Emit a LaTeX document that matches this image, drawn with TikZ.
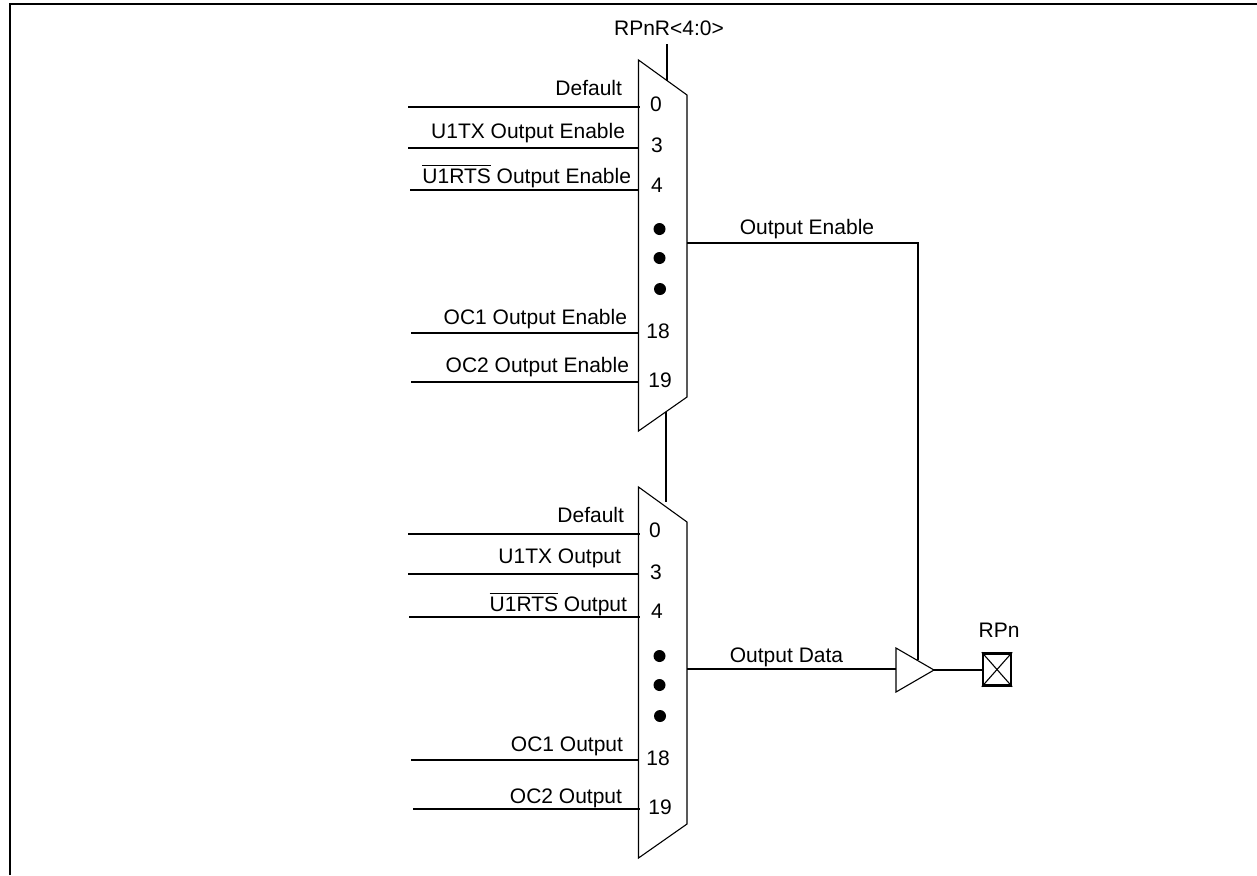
\documentclass[tikz,border=0pt]{standalone}
\usepackage{amsmath}
\usepackage{fontspec}
\setmainfont{Liberation Sans}
\usepackage{xcolor}
\usepackage{tikz}

\tikzset{
  wire/.style={line width=1pt},
  outline/.style={line width=0.55pt},
  lbl/.style={inner sep=0pt,outer sep=0pt,font=\fontsize{10.5}{12}\selectfont},
  muxdot/.style={circle,fill=black,inner sep=0pt,minimum size=6pt},
  padbox/.style={draw,line width=1.2pt,inner sep=0pt,minimum width=14pt,minimum height=16pt}
}

\begin{document}
\begin{tikzpicture}[x=0.5pt,y=-0.5pt]
\useasboundingbox (0,0) rectangle (1257,875);

\coordinate (frameTL) at (10,4);
\coordinate (frameTR) at (1257,4);
\coordinate (frameBL) at (10,875);
\draw [line width=1pt] (frameBL) -- (frameTL) -- (frameTR);

\coordinate (oeA) at (638.5,60);
\coordinate (oeB) at (687,95);
\coordinate (oeC) at (687,397);
\coordinate (oeD) at (638.5,431);
\draw [outline] (oeA) -- (oeB) -- (oeC) -- (oeD) -- cycle;

\coordinate (odA) at (638.5,487);
\coordinate (odB) at (687,522);
\coordinate (odC) at (687,824);
\coordinate (odD) at (638.5,858);
\draw [outline] (odA) -- (odB) -- (odC) -- (odD) -- cycle;

\node [lbl,anchor=base] (selLabel) at (669,35) {RPnR<4:0>};
\coordinate (selTop) at (666.5,44);
\coordinate (selOE) at (666.5,81);
\draw [wire] (selTop) -- (selOE);
\coordinate (linkTop) at (666,412);
\coordinate (linkBot) at (666,502);
\draw [wire] (linkTop) -- (linkBot);

\node [lbl,anchor=base east] (oeLa) at (622,95) {Default};
\node [lbl,anchor=base east] (oeLb) at (625,138) {U1TX Output Enable};
\node [lbl,anchor=base east] (oeLc) at (631,183) {$\overline{\text{U1RTS}}$ Output Enable};
\node [lbl,anchor=base east] (oeLd) at (627,324) {OC1 Output Enable};
\node [lbl,anchor=base east] (oeLe) at (629,372) {OC2 Output Enable};

\coordinate (oeInA) at (408,107);
\coordinate (oeEndA) at (640,107);
\draw [wire] (oeInA) -- (oeEndA);
\coordinate (oeInB) at (408,148);
\coordinate (oeEndB) at (638,148);
\draw [wire] (oeInB) -- (oeEndB);
\coordinate (oeInC) at (410,190);
\coordinate (oeEndC) at (639,190);
\draw [wire] (oeInC) -- (oeEndC);
\coordinate (oeInD) at (411,333);
\coordinate (oeEndD) at (638,333);
\draw [wire] (oeInD) -- (oeEndD);
\coordinate (oeInE) at (411,382);
\coordinate (oeEndE) at (638,382);
\draw [wire] (oeInE) -- (oeEndE);

\node [lbl,anchor=base] (oeNa) at (656,111) {0};
\node [lbl,anchor=base] (oeNb) at (657,152) {3};
\node [lbl,anchor=base] (oeNc) at (657,192) {4};
\node [muxdot] (oeDotA) at (659.5,229) {};
\node [muxdot] (oeDotB) at (659.5,258) {};
\node [muxdot] (oeDotC) at (660,289) {};
\node [lbl,anchor=base] (oeNd) at (658,338) {18};
\node [lbl,anchor=base] (oeNe) at (660,387) {19};

\node [lbl,anchor=base east] (odLa) at (624,522) {Default};
\node [lbl,anchor=base east] (odLb) at (621,563) {U1TX Output};
\node [lbl,anchor=base east] (odLc) at (627,611) {$\overline{\text{U1RTS}}$ Output};
\node [lbl,anchor=base east] (odLd) at (623,751) {OC1 Output};
\node [lbl,anchor=base east] (odLe) at (622,803) {OC2 Output};

\coordinate (odInA) at (408,534);
\coordinate (odEndA) at (640,534);
\draw [wire] (odInA) -- (odEndA);
\coordinate (odInB) at (408,574);
\coordinate (odEndB) at (638,574);
\draw [wire] (odInB) -- (odEndB);
\coordinate (odInC) at (409,617);
\coordinate (odEndC) at (640,617);
\draw [wire] (odInC) -- (odEndC);
\coordinate (odInD) at (411,760);
\coordinate (odEndD) at (638,760);
\draw [wire] (odInD) -- (odEndD);
\coordinate (odInE) at (413,809);
\coordinate (odEndE) at (640,809);
\draw [wire] (odInE) -- (odEndE);

\node [lbl,anchor=base] (odNa) at (655,537) {0};
\node [lbl,anchor=base] (odNb) at (656,579) {3};
\node [lbl,anchor=base] (odNc) at (657,618) {4};
\node [muxdot] (odDotA) at (659.5,656) {};
\node [muxdot] (odDotB) at (659.5,685) {};
\node [muxdot] (odDotC) at (660,716) {};
\node [lbl,anchor=base] (odNd) at (658,765) {18};
\node [lbl,anchor=base] (odNe) at (660,814) {19};

\coordinate (bufA) at (896,648);
\coordinate (bufTip) at (934,670);
\coordinate (bufB) at (896,692);
\coordinate (bufIn) at (896,669);
\coordinate (bufEn) at (918,660);
\draw [outline] (bufA) -- (bufTip) -- (bufB) -- cycle;

\node [lbl,anchor=base] (oeName) at (807,234) {Output Enable};
\coordinate (oeOut) at (687,242.5);
\coordinate (oeCorner) at (918,242.5);
\draw [wire] (oeOut) -- (oeCorner) -- (bufEn);

\node [lbl,anchor=base] (odName) at (786.5,662) {Output Data};
\coordinate (odOut) at (687,669);
\draw [wire] (odOut) -- (bufIn);

\node [padbox] (pad) at (997,669.5) {};
\draw [outline] (pad.north west) -- (pad.south east);
\draw [outline] (pad.north east) -- (pad.south west);
\node [lbl,anchor=base] (padName) at (999,637) {RPn};
\draw [wire] (bufTip |- pad) -- (pad);
\end{tikzpicture}
\end{document}
